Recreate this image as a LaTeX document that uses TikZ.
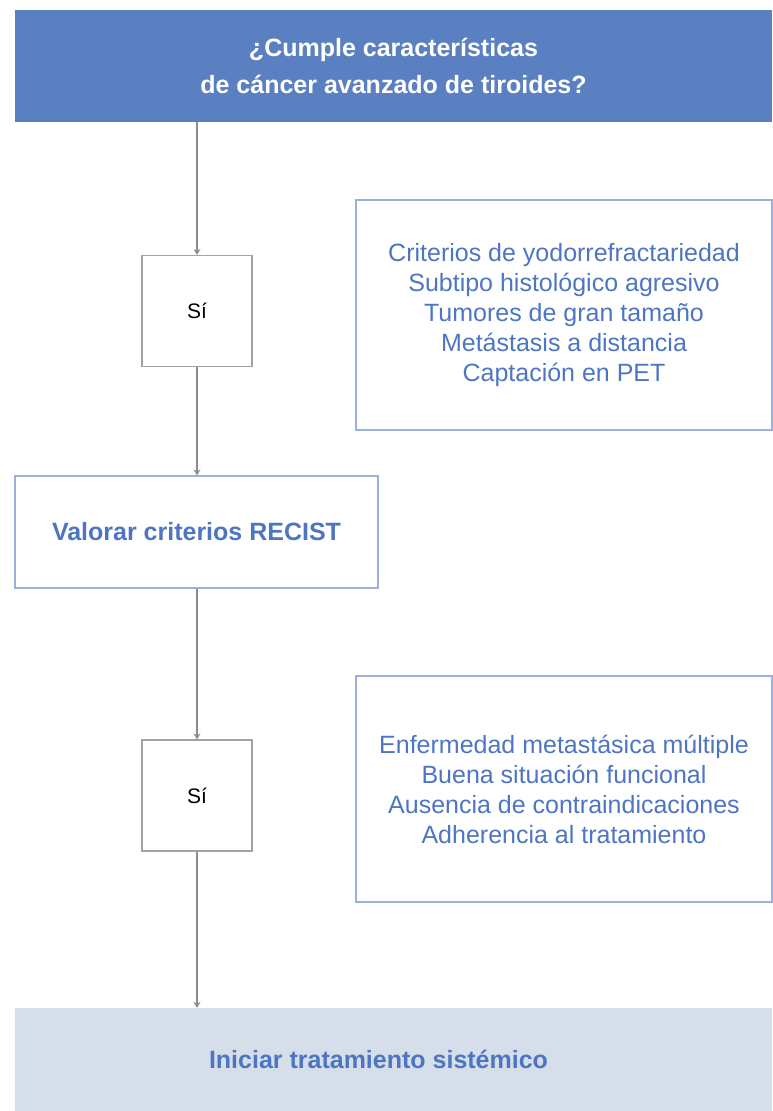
\documentclass[tikz,border=0pt]{standalone}
\usepackage{fontspec}
\setmainfont{Liberation Sans}
\usetikzlibrary{positioning,arrows.meta}
\definecolor{azul}{HTML}{5B80C2}
\definecolor{azultexto}{HTML}{4E75C2}
\definecolor{azulborde}{HTML}{9AB1DD}
\definecolor{azulclaro}{HTML}{D6DEEA}
\definecolor{gris}{HTML}{8C8C8C}

\begin{document}
\begin{tikzpicture}[x=1pt, y=-1pt, auto,
	cabecera/.style={fill=azul, text=white, font=\fontsize{25}{37}\selectfont\bfseries, align=center, minimum width=757pt, minimum height=112pt, inner sep=0pt},
	sibox/.style={draw=gris!80, line width=1.2pt, font=\fontsize{21}{22}\selectfont, minimum width=110pt, minimum height=111pt, inner sep=0pt},
	paso/.style={draw=azulborde, line width=1.2pt, text=azultexto, font=\fontsize{25}{26}\selectfont\bfseries, minimum width=363pt, minimum height=112pt, inner sep=0pt},
	lista/.style={draw=azulborde, line width=1.2pt, text=azultexto, font=\fontsize{25}{30}\selectfont, align=center, minimum width=416pt, inner sep=0pt},
	final/.style={fill=azulclaro, text=azultexto, font=\fontsize{25}{26}\selectfont\bfseries, minimum width=757pt, minimum height=103pt, inner sep=0pt},
	flecha/.style={draw=gris, line width=1.8pt, -{Stealth[length=6pt, width=7pt]}}]
		\useasboundingbox (0,0) rectangle (772,1111);
		\node (A) [cabecera] at (393.5,66) {¿Cumple características\\de cáncer avanzado de tiroides?};
		\node (B) [sibox] at (197,311) {Sí};
		\node (C) [paso] at (196.5,532) {Valorar criterios RECIST};
		\node (D) [sibox] at (197,795.5) {Sí};
		\node (E) [final] at (393.5,1059.5) {\hspace*{-30pt}Iniciar tratamiento sistémico};
		\node (F) [lista, minimum height=230pt] at (564,315) {Criterios de yodorrefractariedad\\Subtipo histológico agresivo\\Tumores de gran tamaño\\Metástasis a distancia\\Captación en PET};
		\node (G) [lista, minimum height=226pt] at (564,789) {Enfermedad metastásica múltiple\\Buena situación funcional\\Ausencia de contraindicaciones\\Adherencia al tratamiento};
		\draw[flecha] (A.south -| B.north) -- (B.north);
		\draw[flecha] (B.south) -- (C.north -| B.south);
		\draw[flecha] (C.south -| D.north) -- (D.north);
		\draw[flecha] (D.south) -- (E.north -| D.south);
\end{tikzpicture}
\end{document}
